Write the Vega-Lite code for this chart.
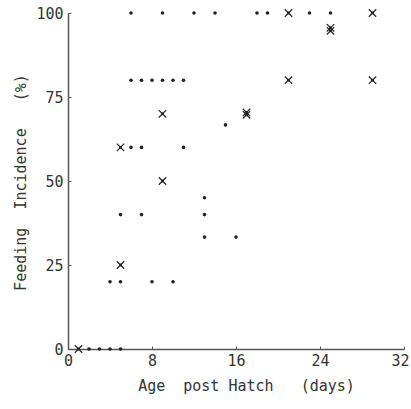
{
  "$schema": "https://vega.github.io/schema/vega-lite/v6.json",
  "width": 336,
  "height": 336,
  "autosize": "none",
  "padding": {"left": 68, "top": 13, "right": 7, "bottom": 60},
  "background": "white",
  "config": {"view": {"stroke": null}, "font": "DejaVu Sans Mono, monospace"},
  "data": {"values": [
    {"day": 1, "pct": 0, "type": "x"},
    {"day": 2, "pct": 0, "type": "dot"},
    {"day": 3, "pct": 0, "type": "dot"},
    {"day": 4, "pct": 0, "type": "dot"},
    {"day": 5, "pct": 0, "type": "dot"},
    {"day": 4, "pct": 20, "type": "dot"},
    {"day": 5, "pct": 20, "type": "dot"},
    {"day": 8, "pct": 20, "type": "dot"},
    {"day": 10, "pct": 20, "type": "dot"},
    {"day": 5, "pct": 25, "type": "x"},
    {"day": 5, "pct": 40, "type": "dot"},
    {"day": 7, "pct": 40, "type": "dot"},
    {"day": 13, "pct": 45, "type": "dot"},
    {"day": 13, "pct": 40, "type": "dot"},
    {"day": 13, "pct": 33.3, "type": "dot"},
    {"day": 16, "pct": 33.3, "type": "dot"},
    {"day": 9, "pct": 50, "type": "x"},
    {"day": 5, "pct": 60, "type": "x"},
    {"day": 6, "pct": 60, "type": "dot"},
    {"day": 7, "pct": 60, "type": "dot"},
    {"day": 11, "pct": 60, "type": "dot"},
    {"day": 15, "pct": 66.7, "type": "dot"},
    {"day": 9, "pct": 70, "type": "x"},
    {"day": 17, "pct": 69.7, "type": "x"},
    {"day": 17, "pct": 70.4, "type": "x"},
    {"day": 6, "pct": 80, "type": "dot"},
    {"day": 7, "pct": 80, "type": "dot"},
    {"day": 8, "pct": 80, "type": "dot"},
    {"day": 9, "pct": 80, "type": "dot"},
    {"day": 10, "pct": 80, "type": "dot"},
    {"day": 11, "pct": 80, "type": "dot"},
    {"day": 21, "pct": 80, "type": "x"},
    {"day": 29, "pct": 80, "type": "x"},
    {"day": 25, "pct": 94.7, "type": "x"},
    {"day": 25, "pct": 95.6, "type": "x"},
    {"day": 6, "pct": 100, "type": "dot"},
    {"day": 9, "pct": 100, "type": "dot"},
    {"day": 12, "pct": 100, "type": "dot"},
    {"day": 14, "pct": 100, "type": "dot"},
    {"day": 18, "pct": 100, "type": "dot"},
    {"day": 19, "pct": 100, "type": "dot"},
    {"day": 21, "pct": 100, "type": "x"},
    {"day": 23, "pct": 100, "type": "dot"},
    {"day": 25, "pct": 100, "type": "dot"},
    {"day": 29, "pct": 100, "type": "x"}
  ]},
  "encoding": {
    "x": {
      "field": "day", "type": "quantitative",
      "scale": {"domain": [0, 32], "nice": false, "zero": false},
      "axis": {
        "values": [0, 8, 16, 24, 32],
        "title": "Age\u00a0\u00a0post\u00a0Hatch\u00a0\u00a0\u00a0(days)",
        "titleFontSize": 15, "titleFontWeight": "normal", "titleColor": "#333",
        "titleX": 178, "titleY": 36, "titleBaseline": "middle", "titleAlign": "center",
        "labelFontSize": 15, "labelColor": "#333", "labelPadding": 7,
        "labelOffset": {"condition": {"test": "datum.value === 32", "value": -4}, "value": 0},
        "grid": false, "domainColor": "#555", "domainWidth": 1.5,
        "tickSize": -3, "tickColor": "#555", "labelFlush": false
      }
    },
    "y": {
      "field": "pct", "type": "quantitative",
      "scale": {"domain": [0, 100], "nice": false},
      "axis": {
        "values": [0, 25, 50, 75, 100],
        "title": "Feeding\u00a0\u00a0Incidence\u00a0\u00a0\u00a0(%)",
        "titleFontSize": 15, "titleFontWeight": "normal", "titleColor": "#333",
        "titleX": -48, "titleY": 169, "titleBaseline": "middle", "titleAlign": "center", "titleAngle": -90,
        "labelFontSize": 15, "labelColor": "#333", "labelPadding": 8,
        "grid": false, "domainColor": "#555", "domainWidth": 1.5,
        "tickSize": -3, "tickColor": "#555", "labelFlush": false
      }
    }
  },
  "layer": [
    {
      "transform": [{"filter": "datum.type === 'dot'"}],
      "mark": {"type": "point", "shape": "circle", "filled": true, "size": 13, "color": "#222", "opacity": 1}
    },
    {
      "transform": [{"filter": "datum.type === 'x'"}],
      "mark": {"type": "point", "shape": "M-1,-1L1,1M-1,1L1,-1", "filled": false, "size": 55, "color": "#222", "strokeWidth": 1.2, "opacity": 1}
    },
    {
      "transform": [{"filter": "datum.type === 'x'"}],
      "mark": {"type": "point", "shape": "circle", "filled": true, "size": 8, "color": "#222", "opacity": 1}
    }
  ]
}
